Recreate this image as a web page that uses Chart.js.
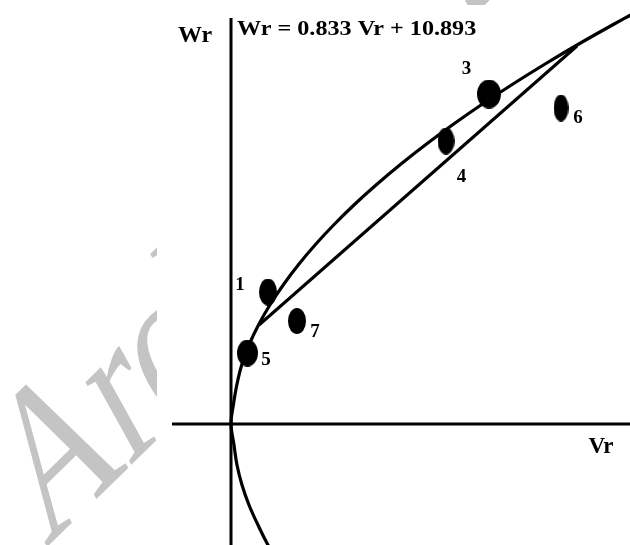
<!DOCTYPE html>
<html>
<head>
<meta charset="utf-8">
<script src="https://cdn.jsdelivr.net/npm/chart.js@4.4.1/dist/chart.umd.min.js"></script>
<style>
  html, body { margin: 0; padding: 0; background: #fff; }
  #wrap { width: 630px; height: 545px; }
</style>
</head>
<body>
<div id="wrap"><canvas id="grafico" width="630" height="545"></canvas></div>
<script>
// Dados (unidades arbitrárias, origem no cruzamento dos eixos)
const pontoIds = ['1', '3', '4', '5', '6', '7'];
const pontoVr  = [3.7, 25.8, 21.5, 1.65, 33.0, 6.6];
const pontoWr  = [13.2, 33.0, 28.3, 7.1, 31.6, 10.3];

// curva (parábola deitada) traçada à mão
const curvaVr = [4.3, 3.7, 2.7, 1.8, 1.1, 0.6, 0.3, 0, 0.25, 0.6, 1.1, 1.84, 2.8, 3.95, 5.29, 6.8, 8.49, 10.36, 12.4, 14.62, 17.0, 19.55, 22.27, 25.15, 28.2, 31.41, 34.78, 38.32, 40.15];
const curvaWr = [-13.0, -12.1, -10.1, -8.1, -6.1, -4.1, -2.1, 0, 2.0, 4.0, 6.0, 8.0, 10.0, 12.0, 14.0, 16.0, 18.0, 20.0, 22.0, 24.0, 26.0, 28.0, 30.0, 32.0, 34.0, 36.0, 38.0, 40.0, 41.0];

// reta de regressão: Wr = 0.833 Vr + 10.893
const retaVr = [2.8, 34.6];
const retaWr = [9.9, 37.8];

// eixos
const eixoX = { vr: [-5.9, 39.9], wr: [0, 0] };
const eixoY = { vr: [0, 0], wr: [40.6, -12.1] };

const equacao = 'Wr = 0.833 Vr + 10.893';

// estilo dos marcadores (largura x altura em px) e posição dos rótulos
const tamanhoPonto = [[18, 27], [24, 29], [17, 27], [21, 27], [15, 27], [18, 26]];
const deslocRotulo = [[-28, -2], [-22.5, -20.5], [15.5, 41], [18.5, 12], [17, 15], [18, 16]];

function elipse(w, h) {
    const c = document.createElement('canvas');
    c.width = w; c.height = h;
    const g = c.getContext('2d');
    g.fillStyle = '#000';
    g.beginPath();
    g.ellipse(w / 2, h / 2, w / 2, h / 2, 0, 0, Math.PI * 2);
    g.fill();
    return c;
}

const junta = (xs, ys) => xs.map((x, i) => ({ x: x, y: ys[i] }));

const FONTE = '"Liberation Serif", "Times New Roman", serif';

const textos = {
    id: 'textos',
    beforeDatasetsDraw(chart) {
        // marca d'água cinza por trás (inclinada e distorcida)
        const ctx = chart.ctx;
        ctx.save();
        ctx.beginPath();
        ctx.rect(0, 0, 157, 545);
        ctx.rect(157, 0, 360, 5);
        ctx.clip();
        ctx.translate(46, 548);
        ctx.transform(1.15, -1.12, 1.0, 1.8, 0, 0);
        ctx.fillStyle = '#c4c4c4';
        ctx.font = '100px ' + FONTE;
        ctx.fillText('Archive of SID', 0, 0);
        ctx.restore();
    },
    afterDatasetsDraw(chart) {
        const ctx = chart.ctx;
        const sx = chart.scales.x, sy = chart.scales.y;
        const ox = sx.getPixelForValue(0), oy = sy.getPixelForValue(0);
        ctx.save();
        ctx.fillStyle = '#000';

        ctx.font = 'bold 24px ' + FONTE;
        ctx.textAlign = 'center';
        ctx.fillText('Wr', ox - 36, 42);
        ctx.font = 'bold 23px ' + FONTE;
        ctx.fillText('Vr', ox + 370, oy + 29);

        ctx.save();
        ctx.font = 'bold 21px ' + FONTE;
        ctx.textAlign = 'left';
        ctx.translate(ox + 6, 35);
        ctx.scale(1.15, 1);
        ctx.fillText(equacao, 0, 0);
        ctx.restore();

        ctx.font = 'bold 19px ' + FONTE;
        ctx.textAlign = 'center';
        pontoIds.forEach((id, i) => {
            const px = sx.getPixelForValue(pontoVr[i]) + deslocRotulo[i][0];
            const py = sy.getPixelForValue(pontoWr[i]) + deslocRotulo[i][1];
            ctx.fillText(id, px, py);
        });
        ctx.restore();
    }
};

const linha = (dados, largura) => ({
    data: dados,
    borderColor: '#000',
    borderWidth: largura,
    pointRadius: 0,
    fill: false,
    tension: 0
});

const ctx = document.getElementById('grafico').getContext('2d');
const grafico = new Chart(ctx, {
    type: 'line',
    data: {
        datasets: [
            linha(junta(eixoX.vr, eixoX.wr), 3),
            linha(junta(eixoY.vr, eixoY.wr), 3),
            Object.assign(linha(junta(curvaVr, curvaWr), 3.2), { tension: 0.4 }),
            linha(junta(retaVr, retaWr), 3),
            {
                type: 'scatter',
                data: junta(pontoVr, pontoWr),
                pointStyle: tamanhoPonto.map(s => elipse(s[0], s[1])),
                pointRadius: 12,
                showLine: false
            }
        ]
    },
    options: {
        responsive: false,
        animation: false,
        layout: { padding: 0, autoPadding: false },
        plugins: { legend: { display: false }, tooltip: { enabled: false } },
        scales: {
            x: { type: 'linear', display: false, min: -23.1, max: 39.9 },
            y: { type: 'linear', display: false, min: -12.1, max: 42.4 }
        }
    },
    plugins: [textos]
});
</script>
</body>
</html>
